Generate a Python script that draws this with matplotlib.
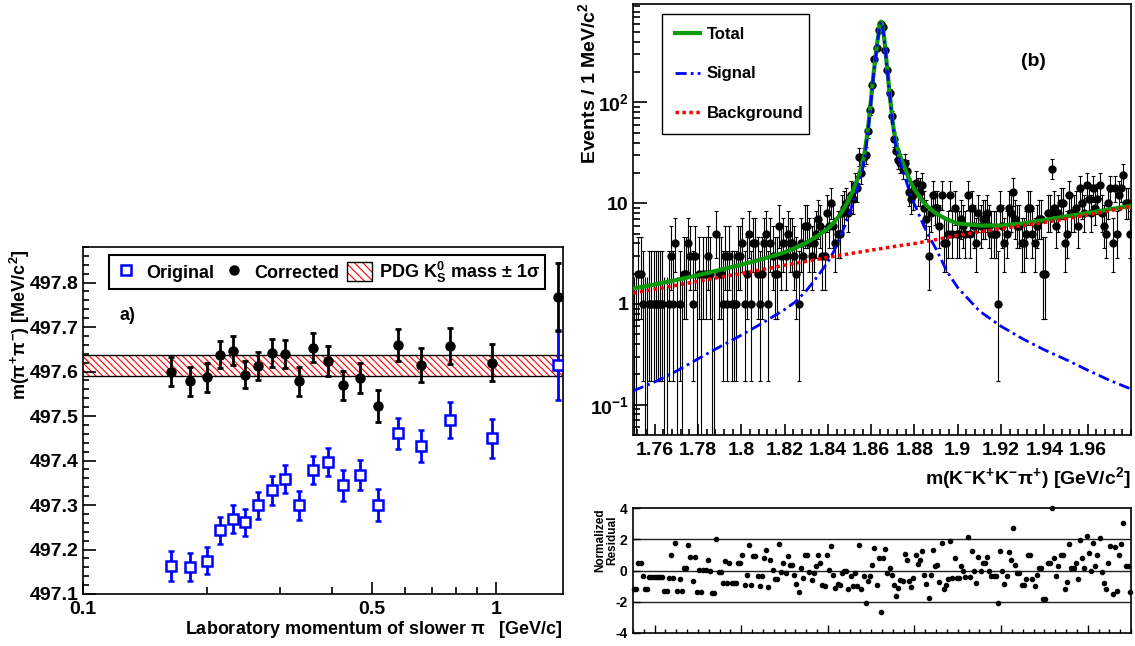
import numpy as np
import matplotlib
matplotlib.use('Agg')
import matplotlib.pyplot as plt
from matplotlib.lines import Line2D
from matplotlib.patches import Patch
from matplotlib.legend_handler import HandlerTuple
from matplotlib.ticker import FixedLocator, FixedFormatter, MultipleLocator, NullFormatter, LogLocator

plt.rcParams['font.family'] = ['Liberation Sans', 'DejaVu Sans']
plt.rcParams['font.weight'] = 'bold'
plt.rcParams['mathtext.fontset'] = 'custom'
plt.rcParams['mathtext.rm'] = 'Liberation Sans:bold'
plt.rcParams['mathtext.it'] = 'Liberation Sans:bold'
plt.rcParams['mathtext.bf'] = 'Liberation Sans:bold'
plt.rcParams['hatch.linewidth'] = 0.8
plt.rcParams['axes.linewidth'] = 1.2

# --- panel a): K0s mass vs slow pion momentum ---
p_mom = [0.163, 0.182, 0.199, 0.215, 0.230, 0.247, 0.265, 0.286, 0.308, 0.333,
         0.361, 0.391, 0.426, 0.469, 0.518, 0.578, 0.657, 0.771, 0.976, 1.41]
m_orig = [497.163, 497.161, 497.175, 497.243, 497.269, 497.261, 497.299, 497.333, 497.358, 497.299,
          497.379, 497.397, 497.344, 497.368, 497.300, 497.461, 497.432, 497.491, 497.450, 497.615]
e_orig = [0.033, 0.031, 0.030, 0.030, 0.031, 0.030, 0.031, 0.032, 0.032, 0.032,
          0.032, 0.032, 0.034, 0.034, 0.036, 0.035, 0.036, 0.040, 0.044, 0.079]
m_corr = [497.600, 497.578, 497.587, 497.638, 497.647, 497.593, 497.612, 497.642, 497.639, 497.578,
          497.654, 497.624, 497.569, 497.585, 497.523, 497.659, 497.615, 497.658, 497.620, 497.768]
e_corr = [0.033, 0.032, 0.032, 0.031, 0.032, 0.031, 0.032, 0.031, 0.031, 0.032,
          0.032, 0.033, 0.033, 0.034, 0.036, 0.036, 0.038, 0.040, 0.042, 0.076]
pdg_mass = 497.614
pdg_err = 0.024

# --- panel (b): m(K-K+K-pi+) spectrum, 1 MeV bins from 1.75 GeV ---
bin_lo = 1.75
bin_w = 0.001
counts = [0, 0, 2, 2, 1, 0, 0, 1, 1, 1,
          1, 1, 1, 1, 0, 0, 1, 3, 1, 4,
          0, 1, 0, 2, 2, 4, 3, 1, 3, 0,
          2, 0, 2, 2, 3, 2, 0, 0, 5, 2,
          2, 1, 3, 1, 3, 1, 1, 1, 3, 3,
          4, 1, 2, 5, 1, 4, 4, 2, 1, 2,
          4, 5, 1, 4, 3, 2, 2, 6, 3, 4,
          3, 5, 4, 4, 3, 2, 1, 4, 3, 6,
          6, 4, 3, 4, 5, 7, 6, 3, 3, 8,
          6, 10, 6, 4, 5, 5, 8, 9, 10, 8,
          12, 11, 15, 14, 29, 20, 29, 30, 52, 85,
          150, 270, 348, 530, 601, 560, 335, 212, 125, 73,
          43, 33, 27, 25, 22, 25, 21, 13, 11, 12,
          16, 13, 13, 15, 9, 7, 3, 8, 12, 9,
          9, 6, 12, 4, 4, 5, 12, 5, 9, 5,
          5, 7, 6, 5, 12, 5, 9, 6, 4, 8,
          6, 7, 7, 8, 6, 5, 5, 5, 1, 9,
          6, 4, 5, 9, 8, 13, 7, 6, 6, 4,
          4, 5, 9, 9, 5, 4, 6, 7, 7, 2,
          2, 8, 8, 22, 9, 6, 8, 10, 10, 4,
          5, 12, 8, 8, 9, 6, 14, 10, 8, 15,
          11, 8, 14, 9, 11, 15, 8, 6, 5, 10,
          14, 4, 14, 5, 12, 14, 19, 10, 10, 5]

resid = [-1.2, -1.2, 0.5, 0.5, -0.35, -1.2, -1.2, -0.4, -0.4, -0.4,
         -0.4, -0.4, -0.42, -0.42, -1.28, -1.28, -0.5, 1.0, -0.5, 1.77,
         -1.3, -0.57, -1.3, 0.19, 0.19, 1.66, 0.85, -0.64, 0.85, -1.38,
         0.06, -1.38, 0.06, 0.06, 0.7, 0.0, -1.47, -1.47, 2.04, -0.08,
         -0.08, -0.8, 0.6, -0.8, 0.5, -0.8, -0.82, -0.82, 0.45, 0.45,
         1.0, -0.9, -0.3, 1.66, -0.94, 0.9, 0.9, -0.36, -1.0, -0.36,
         0.8, 1.34, -1.06, 0.7, 0.06, -0.53, -0.53, 1.7, -0.08, 0.5,
         -0.15, 0.91, 0.34, 0.34, -0.26, -0.85, -1.38, 0.17, -0.47, 1.02,
         1.02, -0.08, -0.62, -0.15, 0.28, 1.02, 0.5, -0.9, -0.96, 1.02,
         0.06, 1.55, -0.26, -1.1, -0.85, -0.94, -0.15, -0.04, 0.0, -1.2,
         -0.36, -1.0, -0.15, -1.0, 1.62, -1.2, -0.36, -2.06, -0.68, -0.36,
         0.34, 1.45, -0.9, 0.77, -2.66, 0.77, 1.38, -0.15, 0.17, -0.3,
         -0.9, -1.64, -1.1, -0.62, -0.64, 1.08, 0.7, -0.68, -1.06, -0.47,
         1.02, 0.43, 0.7, 1.23, -0.26, -0.85, -1.79, -0.26, 1.34, 0.32,
         0.38, -0.72, 1.77, -1.2, -0.94, -0.57, 1.87, -0.47, 0.8, -0.47,
         -0.47, 0.3, 0.0, -0.43, 2.13, -0.43, 1.28, 0.0, -0.79, 0.87,
         0.0, 0.49, 0.49, 0.85, 0.0, -0.36, -0.36, -0.36, -2.06, 1.23,
         -0.04, -0.85, -0.36, 1.19, 0.7, 2.72, 0.34, -0.15, -0.15, -0.9,
         -0.9, -0.57, 1.02, 1.02, -0.57, -1.0, -0.26, 0.17, 0.17, -1.85,
         -1.85, 0.49, 0.45, 4.0, 0.77, -0.36, 0.32, 1.02, 1.02, -1.2,
         -0.75, 1.7, 0.17, 0.17, 0.49, -0.57, 1.98, 0.81, 0.13, 2.19,
         1.13, 0.0, 1.77, 0.32, 1.02, 2.08, -0.1, -0.83, -1.17, 0.49,
         1.55, -1.53, 1.51, -1.28, 1.02, 1.7, 3.04, 0.32, 0.32, -1.38]

# fit curves
total_x = [1.750, 1.760, 1.770, 1.780, 1.790, 1.800, 1.810, 1.820, 1.825, 1.830,
           1.835, 1.840, 1.843, 1.846, 1.848, 1.850, 1.852, 1.854, 1.856, 1.857,
           1.858, 1.859, 1.860, 1.861, 1.862, 1.863, 1.864, 1.8645, 1.865, 1.866,
           1.867, 1.868, 1.869, 1.870, 1.871, 1.872, 1.874, 1.876, 1.878, 1.880,
           1.883, 1.886, 1.890, 1.895, 1.900, 1.910, 1.920, 1.930, 1.940, 1.950,
           1.960, 1.970, 1.980]
total_y = [1.42, 1.56, 1.73, 1.93, 2.17, 2.45, 2.80, 3.25, 3.6, 4.05,
           4.7, 5.6, 6.5, 7.9, 9.3, 11.2, 14.0, 18.0, 25, 32,
           45, 68, 110, 185, 280, 420, 580, 635, 615, 440,
           265, 160, 98, 62, 45, 36, 27, 21, 16.5, 13.8,
           11.0, 9.3, 7.9, 6.9, 6.3, 6.0, 6.0, 6.3, 6.8, 7.4,
           8.0, 8.7, 9.4]
signal_y = [0.137, 0.168, 0.215, 0.285, 0.375, 0.49, 0.65, 0.88, 1.05, 1.35,
            1.85, 2.6, 3.4, 4.8, 6.1, 8.0, 10.8, 14.7, 21.6, 28.5,
            41.5, 64.5, 106.5, 181, 276, 416, 576, 631, 611, 436,
            261, 156, 94, 58, 41, 32, 23, 17, 12.5, 9.8,
            6.9, 5.0, 3.5, 2.1, 1.45, 0.85, 0.60, 0.45, 0.35, 0.28,
            0.22, 0.175, 0.143]
bkg_x = [1.750, 1.760, 1.770, 1.780, 1.790, 1.800, 1.810, 1.820, 1.830, 1.840,
         1.850, 1.860, 1.870, 1.880, 1.890, 1.900, 1.910, 1.920, 1.930, 1.940,
         1.950, 1.960, 1.970, 1.980]
bkg_y = [1.28, 1.40, 1.53, 1.68, 1.84, 2.00, 2.20, 2.42, 2.65, 2.90,
         3.15, 3.42, 3.70, 3.98, 4.35, 4.80, 5.20, 5.60, 6.00, 6.45,
         7.00, 7.65, 8.40, 9.27]

W, H = 1135, 646
fig = plt.figure(figsize=(W / 100, H / 100), dpi=100)


def box(x0, y0, x1, y1):
    # pixel box -> figure fraction
    return [x0 / W, 1 - y1 / H, (x1 - x0) / W, (y1 - y0) / H]


# ================= left panel =================
axL = fig.add_axes(box(83, 247, 563, 594))
axL.set_xscale('log')
xmin, xmax = 0.1, 1.45
axL.set_xlim(xmin, xmax)
axL.set_ylim(497.1, 497.88)

axL.fill_between([xmin, xmax], pdg_mass - pdg_err, pdg_mass + pdg_err,
                 facecolor='none', edgecolor='red', hatch='\\' * 5, lw=0, zorder=1)
axL.axhline(pdg_mass - pdg_err, color='black', lw=1, zorder=1)
axL.axhline(pdg_mass + pdg_err, color='black', lw=1, zorder=1)

axL.errorbar(p_mom, m_orig, yerr=e_orig, fmt='s', ms=7, mfc='white', mec='blue', mew=1.8,
             ecolor='blue', elinewidth=2, capsize=2.2, capthick=2, zorder=3)
axL.errorbar(p_mom, m_corr, yerr=e_corr, fmt='o', ms=6.5, color='black',
             elinewidth=2, capsize=2.2, capthick=2, zorder=4)

axL.xaxis.set_major_locator(FixedLocator([0.1, 0.5, 1.0]))
axL.xaxis.set_major_formatter(FixedFormatter(['0.1', '0.5', '1']))
axL.xaxis.set_minor_locator(FixedLocator([0.2, 0.3, 0.4, 0.6, 0.7, 0.8, 0.9]))
axL.xaxis.set_minor_formatter(NullFormatter())
axL.set_yticks([497.1, 497.2, 497.3, 497.4, 497.5, 497.6, 497.7, 497.8])
axL.set_yticklabels(['497.1', '497.2', '497.3', '497.4', '497.5', '497.6', '497.7', '497.8'])
axL.yaxis.set_minor_locator(MultipleLocator(0.02))
axL.tick_params(which='both', direction='in', top=False, right=False, labelsize=14, width=1.2)
axL.tick_params(axis='y', which='major', length=9, pad=3)
axL.tick_params(axis='y', which='minor', length=4.5)
axL.tick_params(axis='x', which='major', length=9, pad=5)
axL.tick_params(axis='x', which='minor', length=5)

h_orig = Line2D([], [], marker='s', ls='none', ms=7, mfc='white', mec='blue', mew=1.8)
h_corr = Line2D([], [], marker='o', ls='none', ms=6.5, color='black')
h_band = (Patch(facecolor='white', edgecolor='red', hatch='\\' * 4, lw=0),
          Patch(facecolor='none', edgecolor='black', lw=1))
legL = axL.legend([h_orig, h_corr, h_band],
                  ['Original', 'Corrected', 'PDG $\\mathrm{K}^{0}_{S}$ mass $\\pm$ 1$\\sigma$'],
                  handler_map={tuple: HandlerTuple(ndivide=1, pad=0)}, ncol=3,
                  loc='upper left', bbox_to_anchor=(0.054, 0.876, 0.908, 0.101), mode='expand',
                  fancybox=False, edgecolor='black', framealpha=1, fontsize=13,
                  handlelength=1.4, handleheight=1.3, handletextpad=0.4, columnspacing=0.6,
                  borderpad=0.25, borderaxespad=0)
legL.get_frame().set_linewidth(1.5)

fig.text(127 / W, 1 - 316 / H, 'a)', fontsize=13, ha='center', va='center')
fig.text(20 / W, 1 - 249 / H, 'm($\\pi^{+}\\pi^{-}$) [MeV/c$^{2}$]', rotation=90,
         ha='center', va='top', fontsize=13)
fig.text(563 / W, 1 - 630 / H, 'Laboratory momentum of slower $\\pi$   [GeV/c]',
         ha='right', va='center', fontsize=13)

# ================= right panel: spectrum =================
n = np.array(counts, dtype=float)
centers = bin_lo + bin_w * (np.arange(len(counts)) + 0.5)
# asymmetric Poisson errors (Gehrels approximation)
nn = np.maximum(n, 1)
err_up = np.sqrt(n + 0.75) + 1
err_lo = np.where(n > 0, n - n * (1 - 1 / (9 * nn) - 1 / (3 * np.sqrt(nn))) ** 3, 0)
low_end = np.maximum(n - err_lo, 1e-3)

axM = fig.add_axes(box(633, 4, 1131, 435))
axM.set_yscale('log')
axM.set_xlim(1.75, 1.98)
axM.set_ylim(0.05, 950)

nz = n > 0
axM.errorbar(centers[nz], n[nz], yerr=[n[nz] - low_end[nz], err_up[nz]], fmt='o', ms=5,
             color='black', ecolor='black', elinewidth=0.8, capsize=1.3, capthick=0.8, zorder=2)
axM.vlines(centers[~nz], low_end[~nz], err_up[~nz], color='black', lw=0.8, zorder=2)

green = '#0a9a0a'
axM.plot(total_x, total_y, color=green, lw=3, zorder=4)
axM.plot(total_x, signal_y, color='blue', lw=2, dashes=(4, 1.5, 1, 1.5), zorder=5)
axM.plot(bkg_x, bkg_y, color='red', lw=2.5, dashes=(1, 1), zorder=6)

axM.xaxis.set_major_locator(FixedLocator([1.76, 1.78, 1.80, 1.82, 1.84, 1.86, 1.88, 1.90, 1.92, 1.94, 1.96]))
axM.xaxis.set_major_formatter(FixedFormatter(['1.76', '1.78', '1.8', '1.82', '1.84', '1.86',
                                              '1.88', '1.9', '1.92', '1.94', '1.96']))
axM.xaxis.set_minor_locator(MultipleLocator(0.004))
axM.yaxis.set_major_locator(FixedLocator([0.1, 1, 10, 100]))
axM.yaxis.set_major_formatter(FixedFormatter(['10$^{-1}$', '1', '10', '10$^{2}$']))
axM.yaxis.set_minor_locator(LogLocator(base=10, subs=np.arange(2, 10)))
axM.yaxis.set_minor_formatter(NullFormatter())
axM.tick_params(which='both', direction='in', top=False, right=False, labelsize=14, width=1.2)
axM.tick_params(axis='y', which='major', length=10, pad=3)
axM.tick_params(axis='y', which='minor', length=5)
axM.tick_params(axis='x', which='major', length=8, pad=5)
axM.tick_params(axis='x', which='minor', length=4)

hT = Line2D([], [], color=green, lw=3)
hS = Line2D([], [], color='blue', lw=2, dashes=(4, 1.5, 1, 1.5))
hB = Line2D([], [], color='red', lw=2.5, dashes=(1, 1))
legM = axM.legend([hT, hS, hB], ['Total', 'Signal', 'Background'], loc='upper left',
                  bbox_to_anchor=(0.058, 0.689, 0.295, 0.288), mode='expand',
                  fancybox=False, edgecolor='black', framealpha=1, fontsize=12,
                  labelspacing=1.45, handlelength=1.5, handletextpad=0.4, borderpad=0.8,
                  borderaxespad=0)
legM.get_frame().set_linewidth(1.0)

fig.text(1033 / W, 1 - 62 / H, '(b)', fontsize=14, ha='center', va='center')
fig.text(588 / W, 1 - 2 / H, 'Events / 1 MeV/c$^{2}$', rotation=90, ha='center', va='top', fontsize=14)
fig.text(1131 / W, 1 - 478 / H, 'm(K$^{-}$K$^{+}$K$^{-}\\pi^{+}$) [GeV/c$^{2}$]',
         ha='right', va='center', fontsize=14)

# ================= residual panel =================
axR = fig.add_axes(box(633, 508, 1131, 633))
axR.set_xlim(1.75, 1.98)
axR.set_ylim(-4, 4)
for yv in (-2, 0, 2):
    axR.axhline(yv, color='#222222', lw=1, zorder=1)
axR.plot(centers, resid, 'o', ms=3, color='black', clip_on=False, zorder=3)
axR.xaxis.set_major_locator(MultipleLocator(0.04))
axR.xaxis.set_minor_locator(MultipleLocator(0.005))
axR.xaxis.set_major_formatter(NullFormatter())
axR.set_yticks([-4, -2, 0, 2, 4])
axR.set_yticklabels(['-4', '-2', '0', '2', '4'])
axR.tick_params(which='both', direction='in', top=False, right=False, labelsize=10, width=1)
axR.tick_params(axis='y', which='major', length=5, pad=4)
axR.tick_params(axis='x', which='major', length=6)
axR.tick_params(axis='x', which='minor', length=3)
fig.text(606 / W, 1 - 508 / H, 'Normalized\nResidual', rotation=90, ha='center', va='top',
         fontsize=8.5, linespacing=1.0)

fig.savefig('out.png', dpi=100)
